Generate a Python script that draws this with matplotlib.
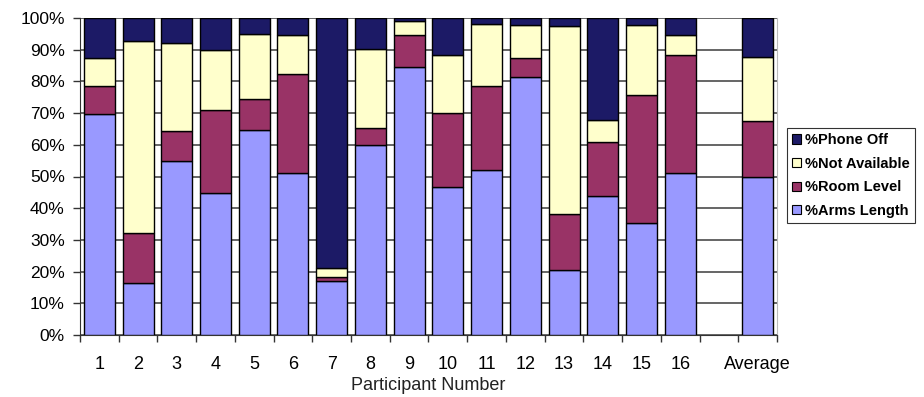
import matplotlib
matplotlib.use("Agg")
import matplotlib.pyplot as plt
import numpy as np
from matplotlib.patches import Patch

plt.rcParams['font.family'] = ['Liberation Sans', 'DejaVu Sans']

categories = ['1', '2', '3', '4', '5', '6', '7', '8', '9', '10', '11', '12',
              '13', '14', '15', '16', '', 'Average']

# Share of time (%) in each phone-proximity state; the blank slot has no data
arms_length = [69.8, 16.3, 54.9, 44.9, 64.7, 51.2, 17.0, 59.8, 84.6, 46.7,
               52.2, 81.5, 20.4, 43.9, 35.3, 51.1, None, 49.7]
room_level = [8.8, 15.8, 9.6, 26.2, 9.7, 31.0, 1.4, 5.6, 9.9, 23.2,
              26.4, 5.8, 17.7, 17.0, 40.5, 37.1, None, 17.7]
not_available = [8.8, 60.8, 27.5, 18.9, 20.5, 12.3, 2.8, 24.8, 4.7, 18.3,
                 19.6, 10.6, 59.5, 6.8, 22.1, 6.5, None, 20.4]
phone_off = [12.6, 7.1, 8.0, 10.0, 5.1, 5.5, 78.8, 9.8, 0.8, 11.8,
             1.8, 2.1, 2.4, 32.3, 2.1, 5.3, None, 12.2]

series = [
    ('%Arms Length', arms_length, '#9999FF'),
    ('%Room Level', room_level, '#993366'),
    ('%Not Available', not_available, '#FFFFCC'),
    ('%Phone Off', phone_off, '#1C1A66'),
]

fig = plt.figure(figsize=(9.24, 3.97), dpi=100)
ax = fig.add_axes([80 / 924, 62 / 397, 697 / 924, 317 / 397])

idx = [i for i, v in enumerate(arms_length) if v is not None]
x = np.array(idx, dtype=float)
bottom = np.zeros(len(idx))
handles = []
for name, vals, color in series:
    v = np.array([vals[i] for i in idx], dtype=float)
    ax.bar(x, v, width=0.8, bottom=bottom, color=color, edgecolor='black',
           linewidth=1.0, zorder=3)
    bottom += v
    handles.append(Patch(facecolor=color, edgecolor='black', linewidth=0.8,
                         label=name))

ax.set_xlim(-0.5, len(categories) - 0.5)
ax.set_ylim(0, 100)

# y axis: percentage ticks with horizontal gridlines behind bars
ax.set_yticks(np.arange(0, 101, 10))
ax.set_yticklabels([f'{t}%' for t in range(0, 101, 10)], fontsize=12.5)
ax.yaxis.grid(True, color='#3c3c3c', linewidth=1.1, zorder=0)
ax.set_axisbelow(True)
ax.tick_params(axis='y', direction='out', length=5, width=1,
               color='#333333', pad=6)

# x axis: labels at slot centres, tick marks at slot boundaries
ax.set_xticks(np.arange(len(categories)))
ax.set_xticklabels(categories, fontsize=13)
ax.set_xticks(np.arange(-0.5, len(categories)), minor=True)
ax.tick_params(axis='x', which='major', length=0, pad=15)
ax.tick_params(axis='x', which='minor', direction='out', length=5, width=1,
               color='#333333')
ax.set_xlabel('Participant Number', fontsize=13, labelpad=3, color='#222222')

ax.spines['top'].set_visible(False)
ax.spines['right'].set_color('#bbbbbb')
ax.spines['right'].set_linewidth(0.8)
ax.spines['left'].set_color('#333333')
ax.spines['bottom'].set_color('#333333')

leg = fig.legend(handles=handles[::-1], loc='upper left',
                 bbox_to_anchor=(787 / 924, 1 - 128 / 397),
                 frameon=True, fancybox=False, edgecolor='black',
                 prop={'size': 10.5, 'weight': 'bold'},
                 handlelength=0.6, handleheight=0.6, handletextpad=0.3,
                 labelspacing=0.66, borderpad=0.35, borderaxespad=0)
leg.get_frame().set_linewidth(0.8)

fig.savefig('out.png', dpi=100)
